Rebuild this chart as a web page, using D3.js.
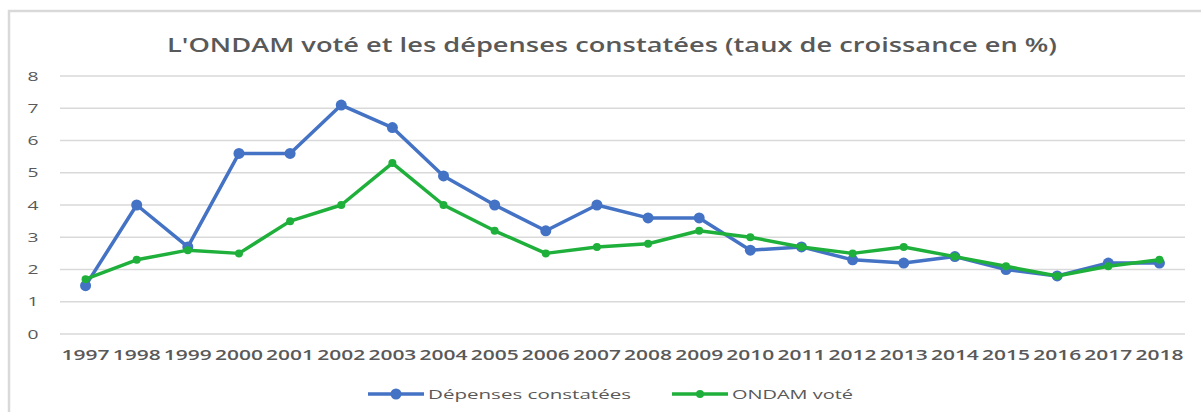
<!DOCTYPE html>
<html>
<head>
    <meta charset="UTF-8">
    <title>ONDAM</title>
    <style>
        body { margin: 0; background: #fff; }
        text { font-family: "Open Sans", "DejaVu Sans", sans-serif; fill: #595959; }
        .grid line { stroke: #d9d9d9; stroke-width: 1.5px; }
        .line { fill: none; stroke-width: 3.5px; stroke-linejoin: round; }
    </style>
</head>
<body>
<svg width="1201" height="412"></svg>
<script src="https://cdn.jsdelivr.net/npm/d3@7"></script>
<script>

    // années
    var years = ["1997", "1998", "1999", "2000", "2001", "2002", "2003", "2004", "2005", "2006", "2007",
        "2008", "2009", "2010", "2011", "2012", "2013", "2014", "2015", "2016", "2017", "2018"];
    // dépenses constatées
    var depenses = [1.5, 4.0, 2.7, 5.6, 5.6, 7.1, 6.4, 4.9, 4.0, 3.2, 4.0,
        3.6, 3.6, 2.6, 2.7, 2.3, 2.2, 2.4, 2.0, 1.8, 2.2, 2.2];
    // ONDAM voté
    var ondam = [1.7, 2.3, 2.6, 2.5, 3.5, 4.0, 5.3, 4.0, 3.2, 2.5, 2.7,
        2.8, 3.2, 3.0, 2.7, 2.5, 2.7, 2.4, 2.1, 1.8, 2.1, 2.3];
    var yTicks = [0, 1, 2, 3, 4, 5, 6, 7, 8];

    var series = [
        {name: "Dépenses constatées", values: depenses, color: "#4472c4", r: 5.5, w: 203},
        {name: "ONDAM voté", values: ondam, color: "#1fb03b", r: 4, w: 121}
    ];

    var svg = d3.select("svg");

    // cadre
    svg.append("rect")
        .attr("x", 9).attr("y", 11)
        .attr("width", 1220).attr("height", 420)
        .attr("fill", "none")
        .attr("stroke", "#d9d9d9")
        .attr("stroke-width", 2.5);

    // titre (image d'origine étirée horizontalement)
    svg.append("text")
        .attr("x", 167).attr("y", 52)
        .style("font-size", "19px")
        .style("font-weight", 600)
        .attr("textLength", 890)
        .attr("lengthAdjust", "spacingAndGlyphs")
        .text("L'ONDAM voté et les dépenses constatées (taux de croissance en %)");

    var x = d3.scaleBand().domain(years).range([60, 1185]);
    var y = d3.scaleLinear().domain([0, 8]).range([334, 76]);

    // grille horizontale
    svg.append("g")
        .attr("class", "grid")
        .selectAll("line")
        .data(yTicks)
        .enter().append("line")
        .attr("x1", 60).attr("x2", 1185)
        .attr("y1", function (d) { return y(d); })
        .attr("y2", function (d) { return y(d); });

    // axe y (nombres seulement)
    var yAxis = svg.append("g")
        .attr("transform", "translate(44,0)")
        .call(d3.axisLeft(y).tickValues(yTicks).tickSize(0).tickPadding(0));
    yAxis.select(".domain").remove();
    yAxis.selectAll("text").style("font-size", "13px").attr("text-anchor", "middle").attr("x", -11)
        .attr("textLength", 11).attr("lengthAdjust", "spacingAndGlyphs");

    // axe x
    var xAxis = svg.append("g")
        .attr("transform", "translate(0,346)")
        .call(d3.axisBottom(x).tickSize(0).tickPadding(4));
    xAxis.select(".domain").remove();
    xAxis.selectAll("text").style("font-size", "14px").style("font-weight", 600)
        .attr("textLength", 48).attr("lengthAdjust", "spacingAndGlyphs");

    var line = d3.line()
        .x(function (d, i) { return x(years[i]) + x.bandwidth() / 2; })
        .y(function (d) { return y(d); });

    series.forEach(function (s) {
        svg.append("path")
            .datum(s.values)
            .attr("class", "line")
            .attr("stroke", s.color)
            .attr("d", line);
        svg.append("g")
            .selectAll("circle")
            .data(s.values)
            .enter().append("circle")
            .attr("cx", function (d, i) { return x(years[i]) + x.bandwidth() / 2; })
            .attr("cy", function (d) { return y(d); })
            .attr("r", s.r)
            .attr("fill", s.color);
    });

    // légende
    var legendX = [368, 672];
    series.forEach(function (s, i) {
        var lg = svg.append("g").attr("transform", "translate(" + legendX[i] + ",394)");
        lg.append("line").attr("x1", 0).attr("x2", 56)
            .attr("stroke", s.color).attr("stroke-width", 3.5);
        lg.append("circle").attr("cx", 28).attr("r", s.r).attr("fill", s.color);
        lg.append("text").attr("x", 60).attr("y", 5)
            .style("font-size", "13px")
            .attr("textLength", s.w)
            .attr("lengthAdjust", "spacingAndGlyphs")
            .text(s.name);
    });

</script>
</body>
</html>
